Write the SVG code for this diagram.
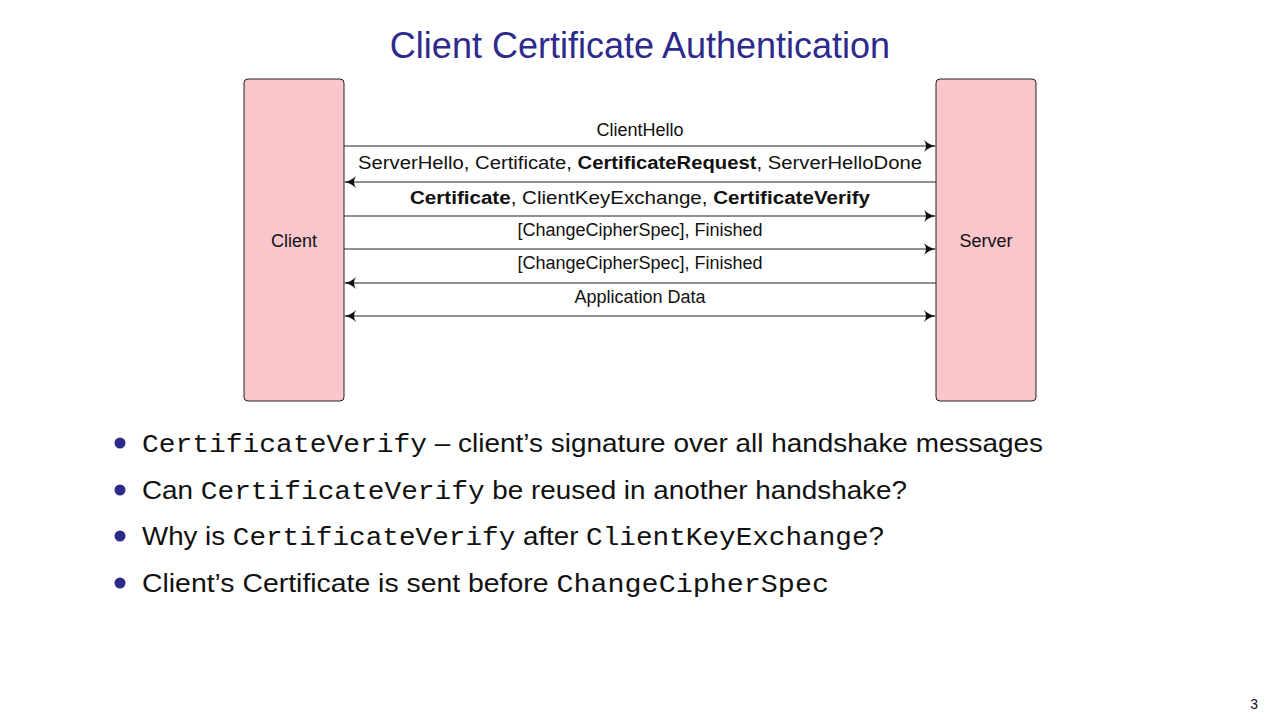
<svg xmlns="http://www.w3.org/2000/svg" width="1280" height="720" viewBox="0 0 1280 720">
<defs>
<style>
.t{font-family:"Liberation Sans",Arial,sans-serif;font-size:18px;fill:#111;text-anchor:middle}
.b{font-weight:bold}
.box{fill:#f9c6cc;stroke:#222;stroke-width:1}
.ln{stroke:#222;stroke-width:1;fill:none}
.bl{font-family:"Liberation Sans",Arial,sans-serif;font-size:25px;fill:#111}
.m{font-family:"Liberation Mono","Courier New",monospace}
</style>
<marker id="ah" viewBox="0 0 12 12" refX="11" refY="6" markerWidth="12" markerHeight="12" markerUnits="userSpaceOnUse" orient="auto-start-reverse">
<path d="M0,0 Q5,5 12,6 Q5,7 0,12 Q4,6 0,0Z" fill="#111"/>
</marker>
</defs>
<rect width="1280" height="720" fill="#fff"/>
<text x="640" y="58" style="font-family:'Liberation Sans',Arial,sans-serif;font-size:36px;fill:#2e2a8c;text-anchor:middle">Client Certificate Authentication</text>
<g id="client"><rect class="box" x="244" y="79" width="100" height="322" rx="4"/><text class="t" x="294" y="247">Client</text></g>
<g id="server"><rect class="box" x="936" y="79" width="100" height="322" rx="4"/><text class="t" x="986" y="247">Server</text></g>
<g id="connectors">
<line class="ln" x1="344" y1="146" x2="935" y2="146" marker-end="url(#ah)"/>
<line class="ln" x1="345" y1="182" x2="936" y2="182" marker-start="url(#ah)"/>
<line class="ln" x1="344" y1="216" x2="935" y2="216" marker-end="url(#ah)"/>
<line class="ln" x1="344" y1="249" x2="935" y2="249" marker-end="url(#ah)"/>
<line class="ln" x1="345" y1="283" x2="936" y2="283" marker-start="url(#ah)"/>
<line class="ln" x1="345" y1="316" x2="935" y2="316" marker-start="url(#ah)" marker-end="url(#ah)"/>
</g>
<g id="labels">
<text class="t" x="640" y="136">ClientHello</text>
<text class="t" x="640" y="169" textLength="564" lengthAdjust="spacingAndGlyphs">ServerHello, Certificate, <tspan class="b">CertificateRequest</tspan>, ServerHelloDone</text>
<text class="t" x="640" y="204" textLength="460" lengthAdjust="spacingAndGlyphs"><tspan class="b">Certificate</tspan>, ClientKeyExchange, <tspan class="b">CertificateVerify</tspan></text>
<text class="t" x="640" y="236">[ChangeCipherSpec], Finished</text>
<text class="t" x="640" y="269">[ChangeCipherSpec], Finished</text>
<text class="t" x="640" y="303">Application Data</text>
</g>
<g fill="#2e2a8c"><circle cx="120" cy="443" r="5.5"/><circle cx="120" cy="490" r="5.5"/><circle cx="120" cy="536" r="5.5"/><circle cx="120" cy="583" r="5.5"/></g>
<text class="bl" x="142" y="452" textLength="901" lengthAdjust="spacingAndGlyphs"><tspan class="m">CertificateVerify</tspan> – client’s signature over all handshake messages</text>
<text class="bl" x="142" y="499" textLength="765" lengthAdjust="spacingAndGlyphs">Can <tspan class="m">CertificateVerify</tspan> be reused in another handshake?</text>
<text class="bl" x="142" y="545" textLength="742" lengthAdjust="spacingAndGlyphs">Why is <tspan class="m">CertificateVerify</tspan> after <tspan class="m">ClientKeyExchange</tspan>?</text>
<text class="bl" x="142" y="592" textLength="687" lengthAdjust="spacingAndGlyphs">Client’s Certificate is sent before <tspan class="m">ChangeCipherSpec</tspan></text>
<text x="1258" y="709" style="font-family:'Liberation Sans',Arial,sans-serif;font-size:14px;fill:#111;text-anchor:end">3</text>
</svg>
